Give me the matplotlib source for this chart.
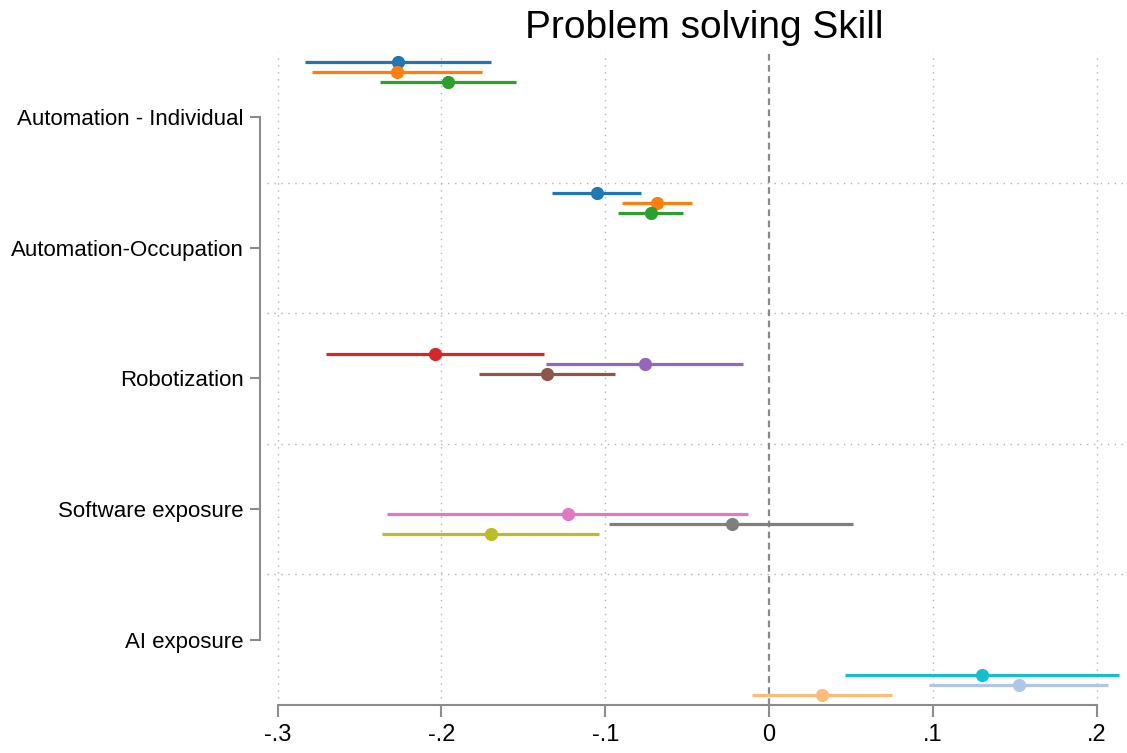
import matplotlib
matplotlib.use("Agg")
import matplotlib.pyplot as plt
import numpy as np

plt.rcParams["font.family"] = ["Liberation Sans", "DejaVu Sans"]

# exposure measures, top to bottom
groups = ["Automation - Individual", "Automation-Occupation", "Robotization",
          "Software exposure", "AI exposure"]

# one row per estimate: group index, model slot, point estimate, CI bounds
row_group = [0, 0, 0, 1, 1, 1, 2, 2, 2, 3, 3, 3, 4, 4, 4]
row_slot = [0, 1, 2, 0, 1, 2, 3, 4, 5, 6, 7, 8, 9, 10, 11]
coef = [-0.2263, -0.2269, -0.1962,
        -0.1052, -0.0686, -0.0722,
        -0.2039, -0.0757, -0.1355,
        -0.1229, -0.0228, -0.1699,
        0.1302, 0.1528, 0.0326]
ci_lo = [-0.2833, -0.2788, -0.2375,
         -0.1327, -0.0899, -0.0924,
         -0.2707, -0.1361, -0.1770,
         -0.2334, -0.0975, -0.2361,
         0.0464, 0.0979, -0.0106]
ci_hi = [-0.1699, -0.1754, -0.1547,
         -0.0781, -0.0470, -0.0523,
         -0.1374, -0.0157, -0.0940,
         -0.0126, 0.0515, -0.1040,
         0.2139, 0.2068, 0.0753]

slot_colors = ["#1f77b4", "#ff7f0e", "#2ca02c", "#d62728", "#9467bd", "#8c564b",
               "#e377c2", "#7f7f7f", "#bcbd22", "#17becf", "#aec7e8", "#ffbb78"]

xticks = [-0.3, -0.2, -0.1, 0, 0.1, 0.2]
xticklabels = ["-.3", "-.2", "-.1", "0", ".1", ".2"]

fig = plt.figure(figsize=(11.27, 7.53), dpi=100)
ax = fig.add_axes([267 / 1127, 48 / 753, 860 / 1127, 653 / 753])

ypos = np.arange(1, len(groups) + 1)
step = 10 / 130.75  # vertical gap between model slots

# grid: vertical dotted at ticks, horizontal dotted between groups
grid_kw = dict(color="#b4b4b4", lw=1.0, ls=(0, (1, 4)), zorder=0)
for xv in xticks:
    if xv != 0:
        ax.axvline(xv, **grid_kw)
for yb in ypos[:-1] + 0.5:
    ax.axhline(yb, **grid_kw)
ax.axvline(0, color="#8a8a8a", lw=1.6, ls=(0, (3, 2)), zorder=1)

for g, s, c, lo, hi in zip(row_group, row_slot, coef, ci_lo, ci_hi):
    y = ypos[g] + (s - 5.5) * step
    col = slot_colors[s]
    ax.plot([lo, hi], [y, y], color=col, lw=2.3, solid_capstyle="butt", zorder=2)
    ax.plot(c, y, "o", color=col, ms=8.5, zorder=3)

ax.set_xlim(-0.3065, 0.2186)
ax.set_ylim(5.5, 0.5)

ax.set_yticks(ypos)
ax.set_yticklabels(groups)
ax.set_xticks(xticks)
ax.set_xticklabels(xticklabels)

for side in ["top", "right"]:
    ax.spines[side].set_visible(False)
ax.spines["left"].set_position(("outward", 5))
ax.spines["left"].set_bounds(1, 5)
ax.spines["bottom"].set_bounds(-0.3, 0.2)
for side in ["left", "bottom"]:
    ax.spines[side].set_color("#8c8c8c")
    ax.spines[side].set_linewidth(1.5)

ax.tick_params(axis="y", length=7, width=1.5, color="#8c8c8c", pad=5, labelsize=16)
ax.tick_params(axis="x", length=8.5, width=1.5, color="#8c8c8c", pad=5, labelsize=17)

fig.text(704.5 / 1127, 1 - 38 / 753, "Problem solving Skill", fontsize=28,
         ha="center", va="baseline")

fig.savefig("out.png", dpi=100)
